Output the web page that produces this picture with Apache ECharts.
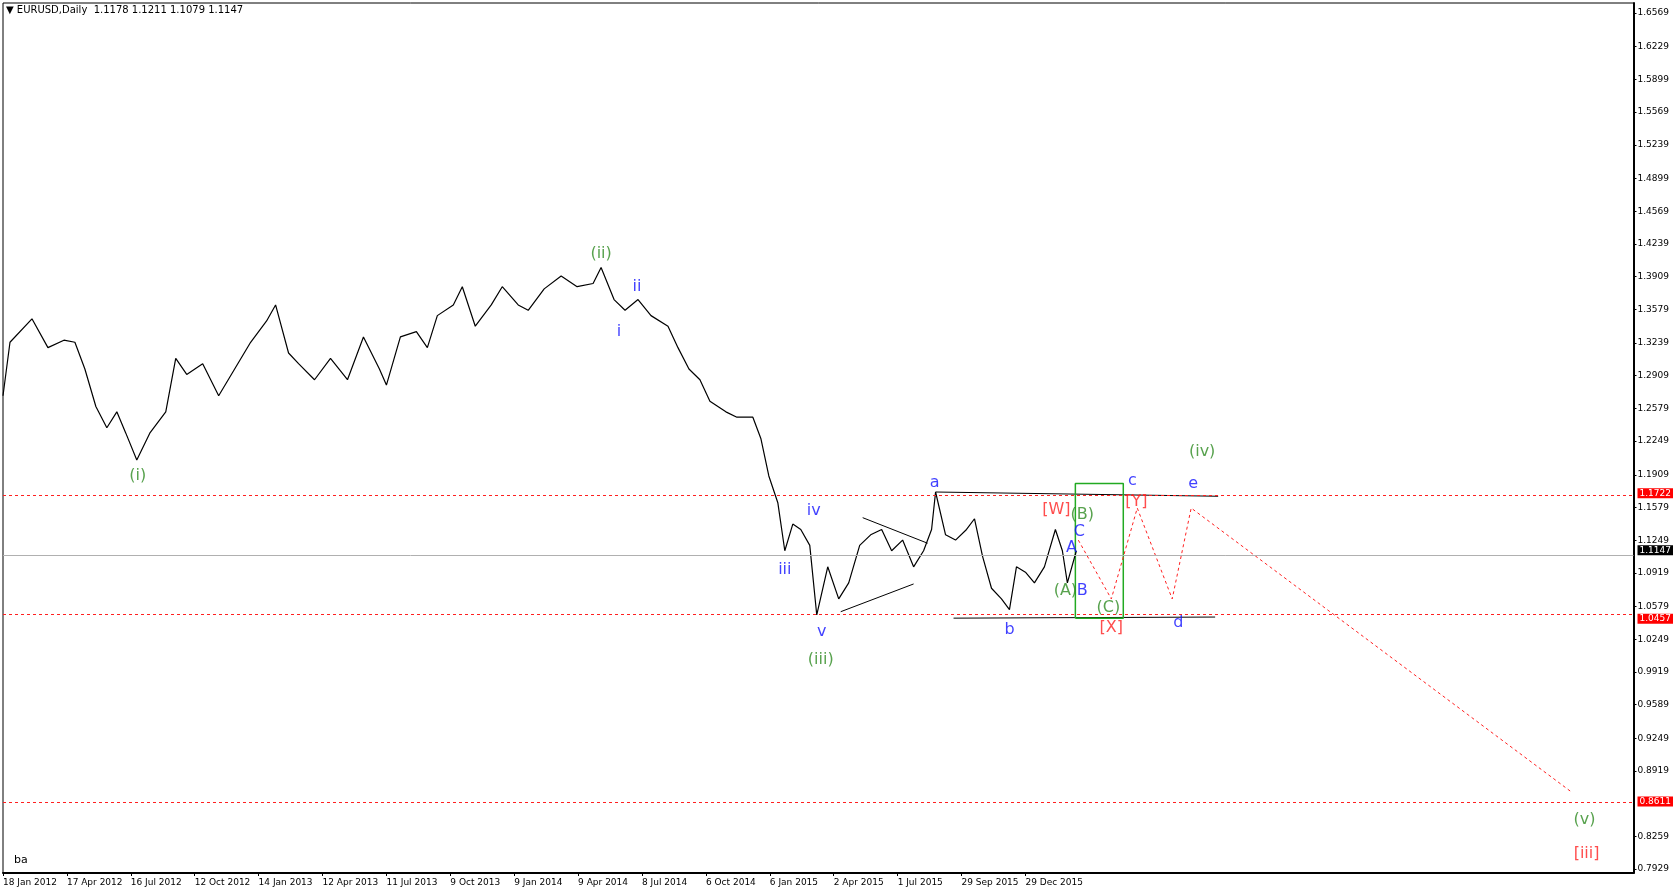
<!DOCTYPE html>
<html>
<head>
<meta charset="utf-8">
<script src="https://cdn.jsdelivr.net/npm/echarts@6/dist/echarts.min.js"></script>
<style>html,body{margin:0;padding:0;background:#fff}#main{width:1676px;height:894px}</style>
</head>
<body>
<div id="main"></div>
<script>
// bar index (1 bar = 1 trading day) and close price
var barIdx = [0,7,29,45,61,72,82,93,104,114,123,134,147,163,173,184,200,216,232,248,264,273,286,296,312,328,345,361,377,384,398,414,425,435,451,460,473,489,500,516,526,542,559,575,591,599,612,623,636,649,666,676,687,698,708,724,735,751,759,767,776,783,791,799,808,815,826,837,847,858,869,880,890,901,912,922,930,934,944,954,965,973,981,990,1000,1008,1015,1024,1033,1043,1054,1061,1066,1075];
var closes = [1.2706,1.3246,1.3483,1.3192,1.3267,1.3246,1.2976,1.2598,1.2383,1.2544,1.2329,1.2059,1.2329,1.2544,1.3084,1.2922,1.3030,1.2706,1.2976,1.3246,1.3461,1.3623,1.3138,1.3030,1.2868,1.3084,1.2868,1.3300,1.2976,1.2814,1.3300,1.3354,1.3192,1.3515,1.3623,1.3807,1.3408,1.3623,1.3807,1.3623,1.3569,1.3785,1.3915,1.3807,1.3839,1.4001,1.3677,1.3569,1.3677,1.3515,1.3408,1.3192,1.2976,1.2868,1.2652,1.2544,1.2490,1.2490,1.2275,1.1897,1.1627,1.1142,1.1411,1.1357,1.1196,1.0494,1.0980,1.0656,1.0818,1.1196,1.1303,1.1357,1.1142,1.1250,1.0980,1.1142,1.1357,1.1735,1.1303,1.1250,1.1357,1.1465,1.1088,1.0764,1.0656,1.0548,1.0980,1.0926,1.0818,1.0980,1.1357,1.1142,1.0818,1.1142];

var dateTicks = [0,64,128,192,256,320,384,448,512,576,640,704,768,832,896,960,1024];
var dateLabels = ['18 Jan 2012','17 Apr 2012','16 Jul 2012','12 Oct 2012','14 Jan 2013','12 Apr 2013','11 Jul 2013','9 Oct 2013','9 Jan 2014','9 Apr 2014','8 Jul 2014','6 Oct 2014','6 Jan 2015','2 Apr 2015','1 Jul 2015','29 Sep 2015','29 Dec 2015'];

var priceTicks = [1.6569,1.6229,1.5899,1.5569,1.5239,1.4899,1.4569,1.4239,1.3909,1.3579,1.3239,1.2909,1.2579,1.2249,1.1909,1.1579,1.1249,1.0919,1.0579,1.0249,0.9919,0.9589,0.9249,0.8919,0.8259,0.7929];
var redLevels = [1.1722, 1.0457, 0.8611];
var lastPrice = 1.1147;

// wave structure lines [bar, price]
var upperLine = [[934,1.1735],[1217,1.1692]];
var lowerLine = [[952,1.0462],[1214,1.0473]];
var triTop = [[861,1.1476],[926,1.1218]];
var triBottom = [[839,1.0527],[912,1.0807]];
var boxX = [1074,1122];
var boxY = [1.0462,1.1822];
var projection = [[1077,1.1249],[1110,1.0656],[1136,1.1573],[1171,1.0656],[1190,1.1573],[1570,0.8714]];

var green = '#2e8b22', blue = '#1010ff', red = '#ff2020';
var waveLabels = [
  [135,1.1897,'(i)',green],[599,1.4141,'(ii)',green],[819,1.0041,'(iii)',green],
  [1201,1.2145,'(iv)',green],[1584,0.8423,'(v)',green],[1586,0.8088,'[iii]',red],
  [617,1.3354,'i',blue],[635,1.3807,'ii',blue],[783,1.0947,'iii',blue],[812,1.1541,'iv',blue],[820,1.0322,'v',blue],
  [933,1.1832,'a',blue],[1008,1.0343,'b',blue],[1131,1.1843,'c',blue],[1177,1.0419,'d',blue],[1192,1.1822,'e',blue],
  [1055,1.1552,'[W]',red],[1135,1.1638,'[Y]',red],[1110,1.0365,'[X]',red],
  [1081,1.1508,'(B)',green],[1064,1.0742,'(A)',green],[1107,1.0570,'(C)',green],
  [1078,1.1336,'C',blue],[1070,1.1174,'A',blue],[1081,1.0742,'B',blue]
];

var myChart = echarts.init(document.getElementById('main'));
var font = 'DejaVu Sans';
var priceData = barIdx.map(function (b, i) { return [b, closes[i]]; });
var allY = priceTicks.concat(redLevels).concat([lastPrice]);

function seg(data, style) {
    return { type: 'line', data: data, symbol: 'none', silent: true, lineStyle: style, z: 3 };
}

var option = {
    animation: false,
    textStyle: { fontFamily: font },
    grid: { left: 3, right: 40, top: 3, bottom: 21, show: true, borderColor: '#000', borderWidth: 1 },
    xAxis: {
        type: 'value', min: 0, max: 1633,
        splitLine: { show: false },
        axisLine: { lineStyle: { color: '#000', width: 2 } },
        axisTick: { customValues: dateTicks, length: 3, lineStyle: { color: '#000' } },
        axisLabel: {
            customValues: dateTicks, color: '#000', fontSize: 9, align: 'left', margin: 5,
            formatter: function (v) { return dateLabels[dateTicks.indexOf(v)]; }
        }
    },
    yAxis: {
        type: 'value', position: 'right', min: 0.789, max: 1.667,
        splitLine: { show: false },
        axisLine: { show: true, onZero: false, lineStyle: { color: '#000', width: 2 } },
        axisTick: { customValues: priceTicks, length: 3, lineStyle: { color: '#000' } },
        axisLabel: {
            customValues: allY, color: '#000', fontSize: 9, margin: 4,
            formatter: function (v) {
                var s = v.toFixed(4);
                if (redLevels.indexOf(v) >= 0) return '{r|' + s + '}';
                if (v === lastPrice) return '{k|' + s + '}';
                return s;
            },
            rich: {
                r: { backgroundColor: '#ff0000', color: '#fff', padding: [1, 2, 0, 2], fontSize: 9 },
                k: { backgroundColor: '#000', color: '#fff', padding: [1, 2, 0, 2], fontSize: 9 }
            }
        }
    },
    graphic: [
        { type: 'text', left: 6, top: 5, style: { text: '▼ EURUSD,Daily  1.1178 1.1211 1.1079 1.1147', fontSize: 10, fill: '#000', fontFamily: font } },
        { type: 'text', left: 14, top: 855, style: { text: 'ba', fontSize: 11, fill: '#000', fontFamily: font } }
    ],
    series: [
        {
            type: 'line', data: priceData, symbol: 'none', z: 4,
            lineStyle: { color: '#000', width: 1.2 },
            markLine: {
                silent: true, symbol: 'none', label: { show: false },
                data: redLevels.map(function (v) { return { yAxis: v, lineStyle: { color: red, type: [3, 3], width: 1 } }; })
                    .concat([{ yAxis: lastPrice, lineStyle: { color: '#b0b0b0', type: 'solid', width: 1 } }])
            }
        },
        seg(upperLine, { color: '#000', width: 1 }),
        seg(lowerLine, { color: '#000', width: 1 }),
        seg(triTop, { color: '#000', width: 1 }),
        seg(triBottom, { color: '#000', width: 1 }),
        seg([[boxX[0], boxY[0]], [boxX[1], boxY[0]], [boxX[1], boxY[1]], [boxX[0], boxY[1]], [boxX[0], boxY[0]]], { color: '#22aa22', width: 1.5 }),
        seg(projection, { color: red, width: 1, type: [3, 3] }),
        {
            type: 'scatter', symbolSize: 0, silent: true, z: 5,
            data: waveLabels.map(function (w) {
                return { value: [w[0], w[1]], label: { show: true, formatter: w[2], color: w[3], fontSize: 16, position: 'inside' } };
            })
        }
    ]
};
myChart.setOption(option);
</script>
</body>
</html>
